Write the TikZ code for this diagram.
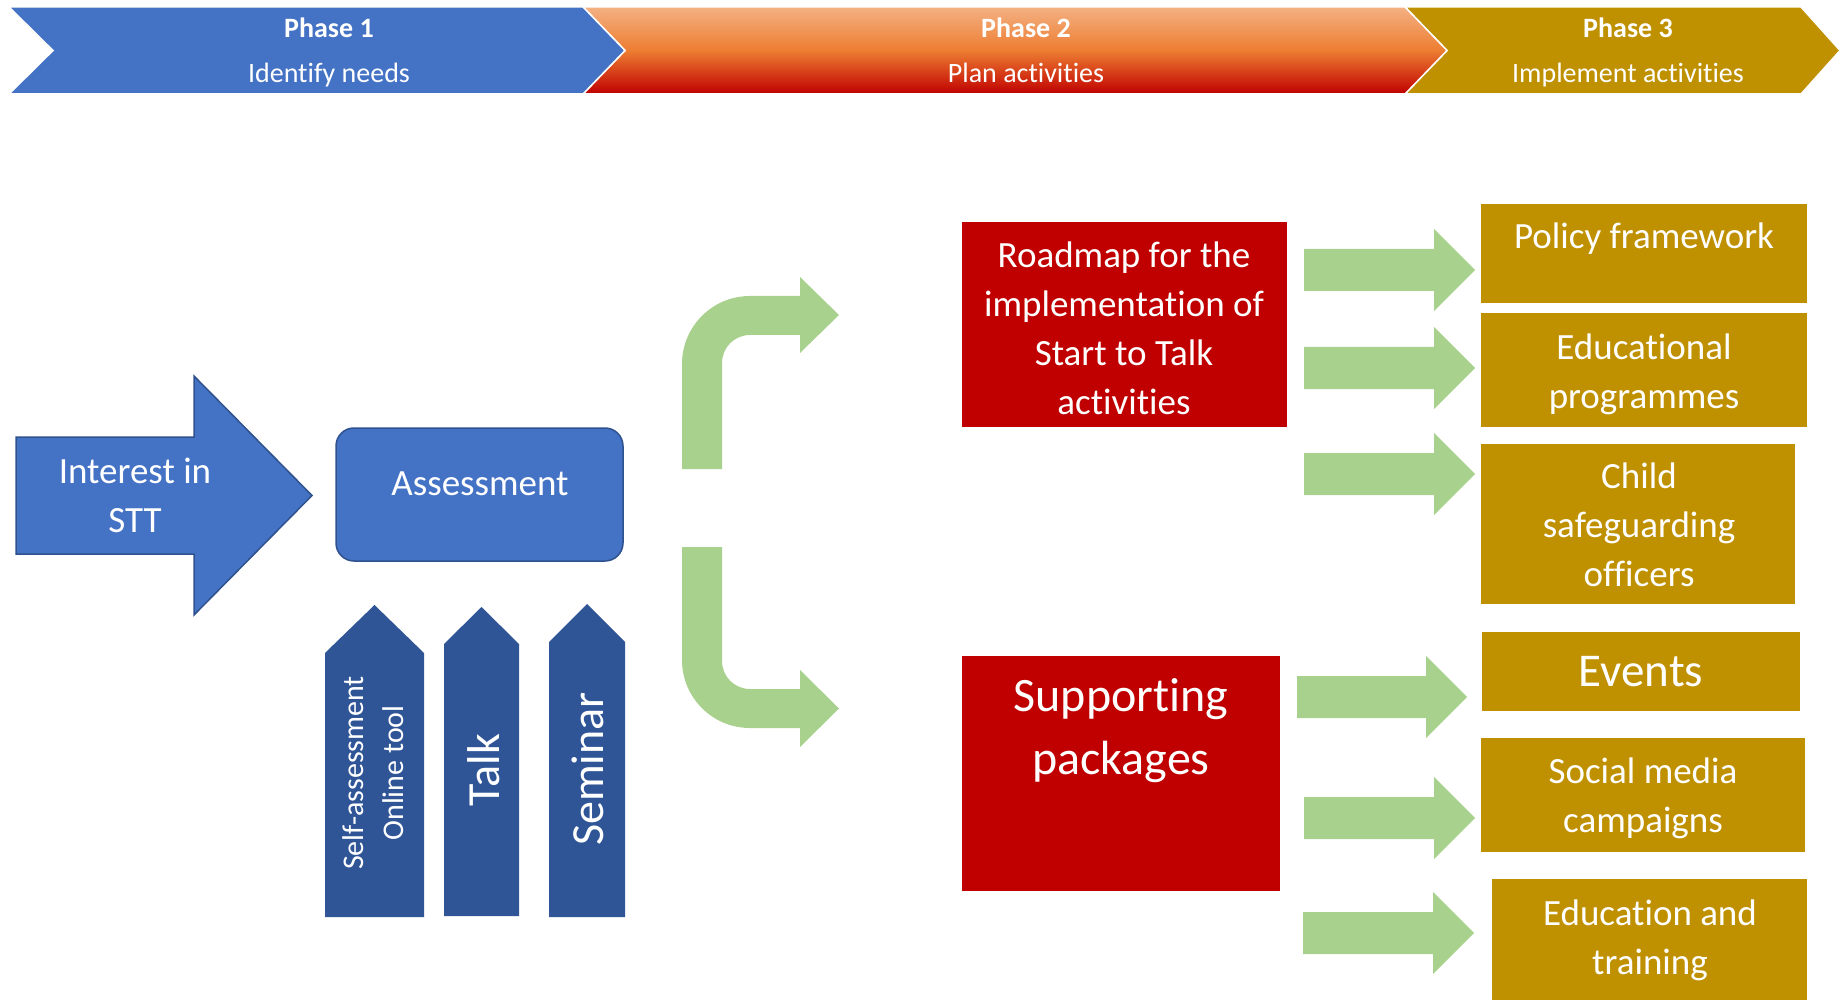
\documentclass[tikz,border=0pt]{standalone}
\usepackage{fontspec}
\setmainfont[Ligatures={NoCommon,NoContextual},Contextuals=NoAlternate]{Carlito}
\definecolor{phaseblue}{HTML}{4472C4}
\definecolor{blueedge}{HTML}{2F528F}
\definecolor{deepblue}{HTML}{2F5597}
\definecolor{boxred}{HTML}{C00000}
\definecolor{gold}{HTML}{BF9000}
\definecolor{leaf}{HTML}{A9D18E}
\definecolor{peach}{HTML}{F4B183}
\definecolor{tangerine}{HTML}{ED7D31}

% straight fat arrow: shaft start x, head base x, tip x, centre y
\newcommand\fatarrow[4]{%
  \fill[leaf] (#1,#4-21) -- (#2,#4-21) -- (#2,#4-41) -- (#3,#4) -- (#2,#4+41)
    -- (#2,#4+21) -- (#1,#4+21) -- cycle;}

\begin{document}
\begin{tikzpicture}[x=1pt,y=-1pt,
  chevron/.style={draw=white,line width=1.5pt},
  head/.style={text=white,inner sep=0pt,font=\bfseries\fontsize{28}{33}\selectfont},
  sub/.style={text=white,inner sep=0pt,font=\fontsize{28}{33}\selectfont},
  txt/.style={text=white,inner sep=0pt,align=center,font=\fontsize{37}{49}\selectfont},
  bigtxt/.style={txt,font=\fontsize{48}{63}\selectfont},
  boxnode/.style={rectangle,inner sep=0pt,outer sep=0pt},
  goldbox/.style={boxnode,fill=gold},
  redbox/.style={boxnode,fill=boxred},
  upshape/.style={fill=deepblue}]
\useasboundingbox (0,0) rectangle (1840,1000);

% ---- phase banner ----
\fill[gold] (1405,7) -- (1801,7) -- (1840,50.5) -- (1801,94) -- (1405,94) -- (1447,50.5) -- cycle;
\draw[chevron] (1405,7) -- (1801,7) -- (1840,50.5) -- (1801,94) -- (1405,94) -- (1447,50.5) -- cycle;
\shade[top color=peach,bottom color=boxred,middle color=tangerine]
  (583,7) -- (1405,7) -- (1447,50.5) -- (1405,94) -- (583,94) -- (625,50.5) -- cycle;
\draw[chevron] (583,7) -- (1405,7) -- (1447,50.5) -- (1405,94) -- (583,94) -- (625,50.5) -- cycle;
\fill[phaseblue] (9,7) -- (583,7) -- (625,50.5) -- (583,94) -- (9,94) -- (53,50.5) -- cycle;
\draw[chevron] (9,7) -- (583,7) -- (625,50.5) -- (583,94) -- (9,94) -- (53,50.5) -- cycle;

\node[head] (ph1) at (329,30.5) {Phase 1\strut};
\node[sub]  (ph1s) at (329,75.5) {Identify needs\strut};
\node[head] (ph2) at (1026,30.5) {Phase 2\strut};
\node[sub]  (ph2s) at (1026,75.5) {Plan activities\strut};
\node[head] (ph3) at (1628,30.5) {Phase 3\strut};
\node[sub]  (ph3s) at (1628,75.5) {Implement activities\strut};

% ---- phase 1: interest and assessment ----
\filldraw[fill=phaseblue,draw=blueedge,line width=1.5pt]
  (16,437) -- (194,437) -- (194,376) -- (312,495.5) -- (194,615) -- (194,554) -- (16,554) -- cycle;
\node[txt] (interest) at (135,498) {Interest in\strut\\STT\strut};

\node[boxnode,fill=phaseblue,draw=blueedge,line width=1.5pt,rounded corners=18pt,
  minimum width=287pt,minimum height=133pt] (assess) at (479.5,494.5) {};
\node[txt] (assesstxt) at (480,486) {Assessment\strut};

% upward pointing inputs
\fill[upshape] (325,917) -- (325,653) -- (374.5,605) -- (424,653) -- (424,917) -- cycle;
\fill[upshape] (444,916) -- (444,644) -- (481.5,607) -- (519,644) -- (519,916) -- cycle;
\fill[upshape] (549,917) -- (549,642) -- (587,604) -- (625,642) -- (625,917) -- cycle;
\node[txt,rotate=90,font=\fontsize{30}{40}\selectfont] (selfas) at (375,773)
  {Self-assessment\strut\\Online tool\strut};
\node[txt,rotate=90,font=\fontsize{46}{56}\selectfont] (talk) at (488,770) {Talk\strut};
\node[txt,rotate=90,font=\fontsize{46}{56}\selectfont] (seminar) at (592,769) {Seminar\strut};

% ---- bent arrows into phase 2 ----
\fill[leaf] (682,469) -- (682,364) .. controls (682,326.4) and (712.4,296) .. (750,296)
  -- (800,296) -- (800,277) -- (839,315) -- (800,353) -- (800,335) -- (750,335)
  .. controls (734.5,335) and (722,347.5) .. (722,363) -- (722,469) -- cycle;
\fill[leaf] (682,547) -- (682,660) .. controls (682,697.6) and (712.4,728) .. (750,728)
  -- (800,728) -- (800,747) -- (839,708.5) -- (800,670) -- (800,689) -- (750,689)
  .. controls (734.5,689) and (722,676.5) .. (722,661) -- (722,547) -- cycle;

% ---- phase 2 boxes ----
\node[redbox,minimum width=325pt,minimum height=205pt] (roadmap) at (1124.5,324.5) {};
\node[txt] (roadmaptxt) at (1124,331)
  {Roadmap for the\strut\\implementation of\strut\\Start to Talk\strut\\activities\strut};
\node[redbox,minimum width=318pt,minimum height=235pt] (support) at (1121,773.5) {};
\node[bigtxt] (supporttxt) at (1121,730) {Supporting\strut\\packages\strut};

% ---- arrows into phase 3 ----
\fatarrow{1304}{1434}{1475}{270}
\fatarrow{1304}{1434}{1475}{368}
\fatarrow{1304}{1434}{1475}{474}
\fatarrow{1297}{1426}{1467}{697}
\fatarrow{1304}{1434}{1475}{818}
\fatarrow{1303}{1433}{1474}{933}

% ---- phase 3 boxes ----
\node[goldbox,minimum width=326pt,minimum height=99pt]  (policy) at (1644,253.5) {};
\node[txt] (policytxt) at (1644,239) {Policy framework\strut};
\node[goldbox,minimum width=326pt,minimum height=114pt] (edprog) at (1644,370) {};
\node[txt] (edprogtxt) at (1644,374) {Educational\strut\\programmes\strut};
\node[goldbox,minimum width=314pt,minimum height=160pt] (child) at (1638,524) {};
\node[txt] (childtxt) at (1639,528) {Child\strut\\safeguarding\strut\\officers\strut};
\node[goldbox,minimum width=318pt,minimum height=79pt]  (events) at (1641,671.5) {};
\node[txt,font=\fontsize{47}{56}\selectfont] (eventstxt) at (1641,675) {Events\strut};
\node[goldbox,minimum width=324pt,minimum height=114pt] (social) at (1643,795) {};
\node[txt] (socialtxt) at (1643,798) {Social media\strut\\campaigns\strut};
\node[goldbox,minimum width=315pt,minimum height=121pt] (edtrain) at (1649.5,939.5) {};
\node[txt] (edtraintxt) at (1650,940) {Education and\strut\\training\strut};
\end{tikzpicture}
\end{document}
